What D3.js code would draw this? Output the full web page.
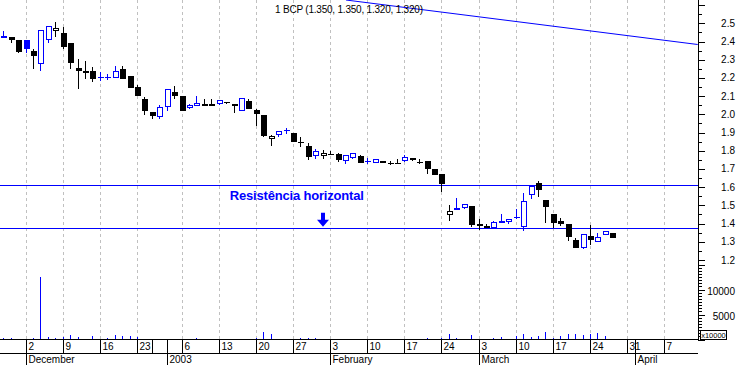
<!DOCTYPE html>
<html>
<head>
<meta charset="utf-8">
<script src="https://cdn.jsdelivr.net/npm/d3@7"></script>
<style>
  body { margin: 0; background: #fff; }
  svg { display: block; font-family: "Liberation Sans", Arial, sans-serif; }
</style>
</head>
<body>
<div id="chart"></div>
<script>
// BCP daily prices, one entry per trading day (27 Nov 2002 -> 26 Mar 2003)
const open = [
  2.42, 2.425, 2.41, 2.41, 2.35, 2.28, 2.41, 2.462, 2.445, 2.39,
  2.254, 2.236, 2.238, 2.203, 2.203, 2.203, 2.249, 2.21, 2.15, 2.082,
  2.013, 1.989, 2.044, 2.124, 2.102, 2.036, 2.05, 2.055, 2.055, 2.058,
  2.069, 2.057, 2.02, 2.073, 2.024, 1.995, 1.868, 1.887, 1.915, 1.898,
  1.846, 1.826, 1.775, 1.773, 1.784, 1.782, 1.748, 1.765, 1.773, 1.743,
  1.737, 1.742, 1.733, 1.730, 1.745, 1.758, 1.740, 1.742, 1.698, 1.67,
  1.451, 1.484, 1.489, 1.496, 1.40, 1.388, 1.379, 1.414, 1.41, 1.434,
  1.382, 1.56, 1.624, 1.529, 1.451, 1.414, 1.396, 1.309, 1.268, 1.331,
  1.30, 1.342, 1.35
];
const high = [
  2.46, 2.425, 2.41, 2.41, 2.36, 2.46, 2.485, 2.507, 2.48, 2.39,
  2.304, 2.293, 2.262, 2.234, 2.221, 2.265, 2.264, 2.21, 2.161, 2.097,
  2.013, 2.051, 2.139, 2.155, 2.102, 2.057, 2.102, 2.082, 2.082, 2.077,
  2.069, 2.057, 2.088, 2.082, 2.027, 1.995, 1.886, 1.905, 1.925, 1.898,
  1.877, 1.841, 1.81, 1.804, 1.80, 1.786, 1.772, 1.786, 1.775, 1.758,
  1.753, 1.742, 1.743, 1.753, 1.776, 1.758, 1.753, 1.742, 1.698, 1.67,
  1.502, 1.538, 1.505, 1.496, 1.423, 1.397, 1.414, 1.451, 1.425, 1.478,
  1.566, 1.606, 1.635, 1.529, 1.451, 1.429, 1.396, 1.32, 1.341, 1.392,
  1.346, 1.355, 1.35
];
const low = [
  2.42, 2.39, 2.335, 2.335, 2.25, 2.24, 2.39, 2.423, 2.357, 2.25,
  2.139, 2.192, 2.179, 2.183, 2.188, 2.203, 2.196, 2.146, 2.102, 1.998,
  1.972, 1.974, 2.016, 2.084, 2.02, 2.027, 2.049, 2.047, 2.047, 2.049,
  2.055, 2.009, 2.02, 2.031, 1.937, 1.877, 1.827, 1.877, 1.89, 1.849,
  1.822, 1.75, 1.753, 1.753, 1.775, 1.74, 1.727, 1.755, 1.731, 1.727,
  1.737, 1.735, 1.723, 1.730, 1.74, 1.742, 1.727, 1.672, 1.667, 1.575,
  1.415, 1.474, 1.48, 1.382, 1.364, 1.377, 1.374, 1.404, 1.399, 1.423,
  1.36, 1.535, 1.547, 1.401, 1.374, 1.386, 1.304, 1.267, 1.26, 1.282,
  1.30, 1.342, 1.32
];
const close = [
  2.43, 2.41, 2.34, 2.36, 2.32, 2.46, 2.485, 2.473, 2.371, 2.283,
  2.24, 2.229, 2.196, 2.203, 2.203, 2.238, 2.196, 2.146, 2.102, 2.02,
  1.989, 2.04, 2.139, 2.102, 2.02, 2.051, 2.06, 2.05, 2.048, 2.077,
  2.069, 2.044, 2.088, 2.031, 2.0, 1.88, 1.876, 1.905, 1.908, 1.849,
  1.846, 1.765, 1.798, 1.786, 1.784, 1.749, 1.772, 1.786, 1.731, 1.743,
  1.753, 1.735, 1.733, 1.730, 1.764, 1.748, 1.740, 1.70, 1.667, 1.617,
  1.469, 1.475, 1.505, 1.392, 1.388, 1.377, 1.407, 1.408, 1.425, 1.434,
  1.524, 1.606, 1.584, 1.492, 1.401, 1.397, 1.324, 1.267, 1.341, 1.309,
  1.324, 1.355, 1.32
];
const volume = [
  300, 300, 100, 200, 300, 12600, 500, 300, 500, 900,
  500, 100, 700, 200, 300, 900, 700, 700, 500, 100,
  100, 100, 100, 100, 100, 100, 300, 100, 100, 100,
  100, 100, 100, 100, 300, 1500, 1100, 100, 100, 100,
  300, 300, 300, 100, 100, 100, 100, 100, 100, 100,
  100, 100, 100, 100, 100, 100, 100, 300, 100, 300,
  1100, 300, 100, 900, 100, 100, 300, 500, 100, 700,
  1100, 500, 700, 1500, 300, 700, 1100, 1100, 900, 1100,
  1300, 700, 0
];

// bottom axis: trading-day index of each week start / month start
const weekIdx = [3, 8, 13, 18, 20, 24, 29, 34, 39, 44, 49, 54, 59, 64, 69, 74, 79, 84, 89];
const weekLabels = ["2", "9", "16", "23", "", "6", "13", "20", "27", "3", "10", "17", "24", "3", "10", "17", "24", "31", "7"];
const monthIdx = [3, 22, 44, 64, 85];
const monthLabels = ["December", "2003", "February", "March", "April"];

const priceLabels = [1.2, 1.3, 1.4, 1.5, 1.6, 1.7, 1.8, 1.9, 2.0, 2.1, 2.2, 2.3, 2.4, 2.5];
const volumeLabels = [5000, 10000];

// annotations
const resistance = [1.61, 1.374];
const trendIdx = [46.14, 93.5];
const trendPrice = [2.628, 2.3835];
const title = "1 BCP (1.350, 1.350, 1.320, 1.320)";
const noteText = "Resistência horizontal";

const width = 738, height = 365;
const plotRight = 698, axisTop = 339.5, rowLine = 353.5;
const BLUE = "#0000ff";

const svg = d3.select("#chart").append("svg")
  .attr("width", width)
  .attr("height", height)
  .attr("shape-rendering", "crispEdges");

const x = d3.scaleLinear().domain([0, 89]).range([3.3, 664.3]);
const y = d3.scaleLinear().domain([1.2, 2.5]).range([260, 23.3]);
const yv = d3.scaleLinear().domain([0, 10000]).range([axisTop, 289.5]);
const px = i => Math.round(x(i)) + 0.5;

svg.append("defs").append("clipPath").attr("id", "plot")
  .append("rect").attr("x", 0).attr("y", 0).attr("width", plotRight).attr("height", axisTop);

// dashed week grid
svg.append("g").selectAll("line")
  .data(weekIdx.filter((d, i) => weekLabels[i] !== ""))
  .enter().append("line")
  .attr("x1", d => px(d)).attr("x2", d => px(d))
  .attr("y1", 0).attr("y2", axisTop)
  .attr("stroke", "#c0c0c0")
  .attr("stroke-dasharray", "3,3");

// volume
svg.append("g").selectAll("line")
  .data(volume)
  .enter().append("line")
  .attr("x1", (d, i) => px(i)).attr("x2", (d, i) => px(i))
  .attr("y1", yv(0)).attr("y2", d => yv(d))
  .attr("stroke", BLUE);

// horizontal resistance lines + trend line
const plot = svg.append("g").attr("clip-path", "url(#plot)");
plot.selectAll(".res")
  .data(resistance)
  .enter().append("line")
  .attr("class", "res")
  .attr("x1", 0).attr("x2", plotRight)
  .attr("y1", d => Math.round(y(d)) + 0.5).attr("y2", d => Math.round(y(d)) + 0.5)
  .attr("stroke", BLUE);

plot.append("line")
  .attr("x1", x(trendIdx[0])).attr("y1", y(trendPrice[0]))
  .attr("x2", x(trendIdx[1])).attr("y2", y(trendPrice[1]))
  .attr("stroke", BLUE)
  .attr("shape-rendering", "auto");

// candles
const candles = svg.append("g").selectAll("g")
  .data(d3.range(close.length))
  .enter().append("g")
  .each(function(i) {
    const g = d3.select(this);
    const prev = i > 0 ? close[i - 1] : open[i];
    const col = close[i] >= prev ? BLUE : "#000";
    const cx = px(i);
    g.append("line")
      .attr("x1", cx).attr("x2", cx)
      .attr("y1", y(high[i])).attr("y2", y(low[i]))
      .attr("stroke", col);
    if (Math.abs(open[i] - close[i]) < 0.001) {
      g.append("line")
        .attr("x1", cx - 3).attr("x2", cx + 3)
        .attr("y1", Math.round(y(close[i])) + 0.5).attr("y2", Math.round(y(close[i])) + 0.5)
        .attr("stroke", col);
      return;
    }
    const top = y(Math.max(open[i], close[i]));
    const bot = y(Math.min(open[i], close[i]));
    if (close[i] > open[i]) {
      g.append("rect")
        .attr("x", cx - 2.5).attr("y", top)
        .attr("width", 5).attr("height", Math.max(1, bot - top))
        .attr("fill", "#fff").attr("stroke", col);
    } else {
      g.append("rect")
        .attr("x", cx - 3).attr("y", top)
        .attr("width", 6).attr("height", Math.max(1.5, bot - top))
        .attr("fill", col);
    }
  });

// title
svg.append("text")
  .attr("x", 275).attr("y", 12.5)
  .attr("font-size", "10px")
  .attr("textLength", 148)
  .text(title);

// annotation text and arrow
svg.append("text")
  .attr("x", x(30.5)).attr("y", y(resistance[0]) + 15)
  .attr("font-size", "13px")
  .attr("font-weight", "bold")
  .attr("fill", BLUE)
  .attr("textLength", 134)
  .text(noteText);

const ax = px(43) - 0.5, tip = y(resistance[1]) - 1.5;
svg.append("path")
  .attr("d", `M${ax - 2},${tip - 14} h4 v7 h4 L${ax},${tip} L${ax - 6},${tip - 7} h4 Z`)
  .attr("fill", BLUE)
  .attr("shape-rendering", "auto");

// right axis
const axis = svg.append("g").attr("stroke", "#000");
axis.append("line")
  .attr("x1", plotRight + 0.5).attr("x2", plotRight + 0.5)
  .attr("y1", 0).attr("y2", axisTop);

const pTicks = d3.range(24, 53).map(d => d / 20);
axis.selectAll(".pt")
  .data(pTicks)
  .enter().append("line")
  .attr("x1", plotRight).attr("x2", (d, i) => plotRight + (i % 2 === 0 ? 7 : 4))
  .attr("y1", d => Math.round(y(d)) + 0.5).attr("y2", d => Math.round(y(d)) + 0.5);

const vTicks = d3.range(0, 15001, 625);
axis.selectAll(".vt")
  .data(vTicks)
  .enter().append("line")
  .attr("x1", plotRight).attr("x2", d => plotRight + (d % 5000 === 0 ? 7 : 4))
  .attr("y1", d => Math.round(yv(d)) + 0.5).attr("y2", d => Math.round(yv(d)) + 0.5);

svg.append("g").selectAll("text")
  .data(priceLabels)
  .enter().append("text")
  .attr("x", 735).attr("y", d => y(d))
  .attr("dy", "0.35em")
  .attr("text-anchor", "end")
  .attr("font-size", "10px")
  .text(d => d.toFixed(1));

// volume labels sit a little below their ticks in the original
svg.append("g").selectAll("text")
  .data(volumeLabels)
  .enter().append("text")
  .attr("x", 735).attr("y", d => yv(d) + 2)
  .attr("dy", "0.35em")
  .attr("text-anchor", "end")
  .attr("font-size", "10px")
  .text(d => d);

svg.append("rect")
  .attr("x", 700.5).attr("y", 330.5)
  .attr("width", 26).attr("height", 9)
  .attr("fill", "#fff").attr("stroke", "#000");
svg.append("text")
  .attr("x", 713.5).attr("y", 338)
  .attr("text-anchor", "middle")
  .attr("font-size", "7.5px")
  .text("x10000");

// bottom date axis
const bottom = svg.append("g").attr("stroke", "#000");
bottom.append("line").attr("x1", 0).attr("x2", plotRight).attr("y1", axisTop).attr("y2", axisTop);
bottom.append("line").attr("x1", 0).attr("x2", plotRight).attr("y1", rowLine).attr("y2", rowLine);

bottom.selectAll(".wk")
  .data(weekIdx)
  .enter().append("line")
  .attr("x1", d => px(d)).attr("x2", d => px(d))
  .attr("y1", axisTop).attr("y2", rowLine);

bottom.selectAll(".mo")
  .data(monthIdx)
  .enter().append("line")
  .attr("x1", d => px(d)).attr("x2", d => px(d))
  .attr("y1", axisTop).attr("y2", height);

svg.append("g").selectAll("text")
  .data(weekIdx)
  .enter().append("text")
  .attr("x", d => px(d) + 2).attr("y", 350)
  .attr("font-size", "10px")
  .text((d, i) => weekLabels[i]);

svg.append("g").selectAll("text")
  .data(monthIdx)
  .enter().append("text")
  .attr("x", d => px(d) + 2).attr("y", 363)
  .attr("font-size", "10px")
  .text((d, i) => monthLabels[i]);
</script>
</body>
</html>
